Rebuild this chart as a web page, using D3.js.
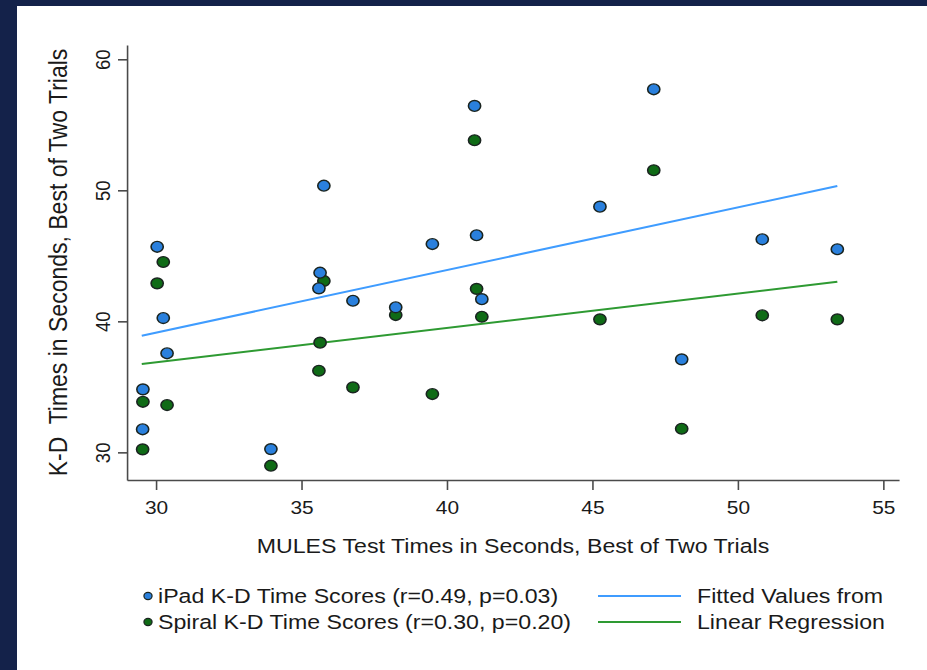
<!DOCTYPE html>
<html>
<head>
<meta charset="utf-8">
<script src="https://cdn.jsdelivr.net/npm/d3@7/dist/d3.min.js"></script>
<style>
  html, body { margin: 0; padding: 0; background: #ffffff; }
  svg { display: block; }
  text { font-family: "Liberation Sans", Arial, Helvetica, sans-serif; fill: #1a1a1a; }
</style>
</head>
<body>
<svg id="chart" width="927" height="670"></svg>
<script>
// ---- data ----
const mulesTimes  = [29.55, 29.54, 30.04, 30.25, 30.38, 33.95, 35.64, 35.60, 35.77, 36.77,
                     38.24, 39.50, 40.95, 41.02, 41.20, 45.26, 47.11, 48.07, 50.84, 53.42];
const ipadTimes   = [34.81, 31.76, 45.69, 40.25, 37.56, 30.25, 43.71, 42.52, 50.35, 41.57,
                     41.07, 45.90, 56.44, 46.57, 41.69, 48.75, 57.71, 37.10, 46.26, 45.50];
const spiralTimes = [33.86, 30.23, 42.90, 44.53, 33.61, 28.98, 38.37, 36.23, 43.08, 34.96,
                     40.48, 34.45, 53.82, 42.48, 40.35, 40.15, 51.53, 31.80, 40.46, 40.15];
const fitX        = [29.51, 53.42];
const ipadFit     = [38.90, 50.33];
const spiralFit   = [36.74, 43.02];
const xTickValues = [30, 35, 40, 45, 50, 55];
const yTickValues = [30, 40, 50, 60];
const xTitle = "MULES Test Times in Seconds, Best of Two Trials";
const yTitle = "K-D\u00a0 Times in Seconds, Best of Two Trials";
const legendMarkerLabels = ["iPad K-D Time Scores (r=0.49, p=0.03)", "Spiral K-D Time Scores (r=0.30, p=0.20)"];
const legendLineLabels = ["Fitted Values from", "Linear Regression"];

// ---- layout ----
const SX = 1.13;                 // horizontal stretch of the reference picture
const VW = 927 / SX, VH = 670;
const H = v => v / SX;           // pixel x -> viewBox x
const colors = {
  ipadFill: "#2a80dd", spiralFill: "#0f6b16", outline: "#1a2420",
  ipadLine: "#3f9cff", spiralLine: "#2e9a32", axis: "#4a4a4a", border: "#14224a"
};

const svg = d3.select("#chart")
  .attr("viewBox", `0 0 ${VW} ${VH}`)
  .attr("preserveAspectRatio", "none");

// background & navy frame
svg.append("rect").attr("x", 0).attr("y", 0).attr("width", VW).attr("height", VH).attr("fill", colors.border);
svg.append("rect").attr("x", H(17)).attr("y", 6).attr("width", VW).attr("height", VH).attr("fill", "#ffffff");

const x = d3.scaleLinear().domain([29.003, 55.54]).range([H(127), H(899)]);
const y = d3.scaleLinear().domain([27.89, 61.09]).range([480, 45]);

// x axis
const gx = svg.append("g").attr("transform", "translate(0,480)")
  .call(d3.axisBottom(x).tickValues(xTickValues).tickSizeOuter(0).tickSizeInner(10).tickPadding(0).tickFormat(d3.format("d")));
gx.select(".domain").attr("stroke", colors.axis).attr("stroke-width", 1.6);
gx.selectAll(".tick line").attr("stroke", colors.axis).attr("stroke-width", 1.4);
gx.selectAll(".tick text").attr("y", 34).attr("dy", null).attr("font-size", 18.5)
  .style("font-family", "'Liberation Sans', Arial, sans-serif").attr("fill", "#1a1a1a");

// y axis
const gy = svg.append("g").attr("transform", `translate(${H(127)},0)`)
  .call(d3.axisLeft(y).tickValues(yTickValues).tickSizeOuter(0).tickSizeInner(H(9)).tickPadding(0).tickFormat(d3.format("d")));
gy.select(".domain").attr("stroke", colors.axis).attr("stroke-width", 1.4);
gy.selectAll(".tick line").attr("stroke", colors.axis).attr("stroke-width", 1.6);
gy.selectAll(".tick text")
  .attr("x", null).attr("dy", null)
  .attr("text-anchor", "middle")
  .attr("transform", `translate(${H(110) - H(127)},0) rotate(-90)`)
  .attr("font-size", 18.5)
  .style("font-family", "'Liberation Sans', Arial, sans-serif").attr("fill", "#1a1a1a");

// axis titles
svg.append("text").attr("x", (x.range()[0] + x.range()[1]) / 2).attr("y", 553)
  .attr("text-anchor", "middle").attr("font-size", 20.5).text(xTitle);
svg.append("text")
  .attr("transform", `translate(${H(66.5)},${(y.range()[0] + y.range()[1]) / 2}) rotate(-90)`)
  .attr("text-anchor", "middle").attr("font-size", 23).text(yTitle);

// fitted lines
const line = d3.line().x(d => x(d[0])).y(d => y(d[1]));
svg.append("path").datum(d3.zip(fitX, ipadFit)).attr("d", line)
  .attr("fill", "none").attr("stroke", colors.ipadLine).attr("stroke-width", 2);
svg.append("path").datum(d3.zip(fitX, spiralFit)).attr("d", line)
  .attr("fill", "none").attr("stroke", colors.spiralLine).attr("stroke-width", 2);

// markers
function drawPoints(vals, fill) {
  svg.append("g").selectAll("circle").data(d3.zip(mulesTimes, vals)).join("circle")
    .attr("cx", d => x(d[0])).attr("cy", d => y(d[1])).attr("r", 5.4)
    .attr("fill", fill).attr("stroke", colors.outline).attr("stroke-width", 1.4);
}
drawPoints(spiralTimes, colors.spiralFill);
drawPoints(ipadTimes, colors.ipadFill);

// legend
const legendRows = [596, 622];
const markerFills = [colors.ipadFill, colors.spiralFill];
const lineColors = [colors.ipadLine, colors.spiralLine];
legendRows.forEach((ry, i) => {
  svg.append("circle").attr("cx", H(148)).attr("cy", ry).attr("r", 3.6)
    .attr("fill", markerFills[i]).attr("stroke", colors.outline).attr("stroke-width", 1.1);
  svg.append("text").attr("x", H(158)).attr("y", ry + 7.5).attr("font-size", 20.5)
    .text(legendMarkerLabels[i]);
  svg.append("line").attr("x1", H(598)).attr("x2", H(681)).attr("y1", ry).attr("y2", ry)
    .attr("stroke", lineColors[i]).attr("stroke-width", 2);
  svg.append("text").attr("x", H(697)).attr("y", ry + 7.5).attr("font-size", 20.5)
    .text(legendLineLabels[i]);
});
</script>
</body>
</html>
